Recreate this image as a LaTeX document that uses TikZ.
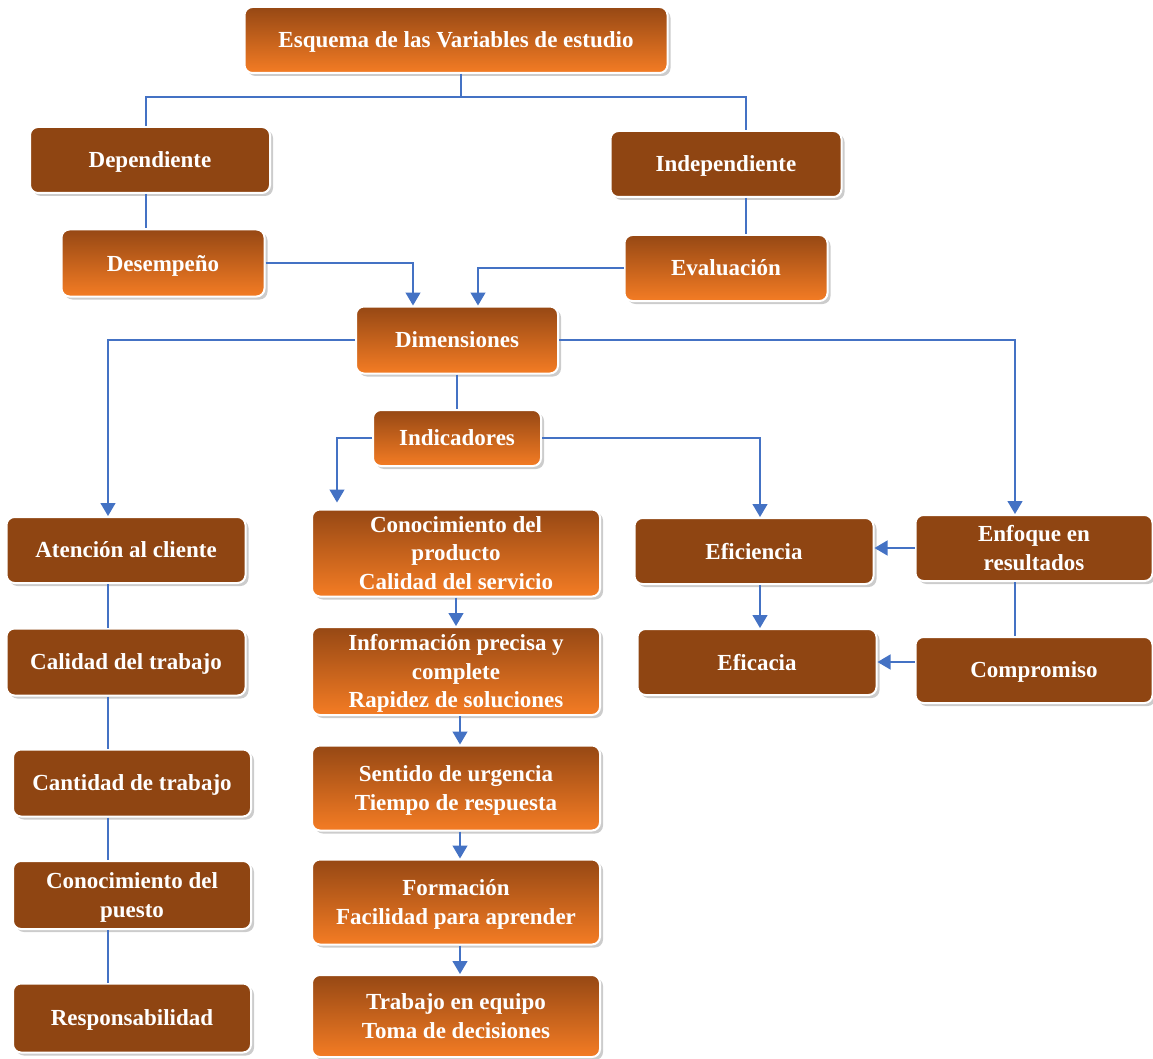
\documentclass[tikz,border=0pt]{standalone}
\usepackage{fontspec}
\setmainfont{Liberation Serif}
\usetikzlibrary{arrows.meta,shadows}
\definecolor{brownbox}{RGB}{143,69,18}
\definecolor{browntop}{RGB}{150,72,20}
\definecolor{orangebot}{RGB}{244,124,36}
\definecolor{linkblue}{RGB}{68,114,196}

\begin{document}
\begin{tikzpicture}[x=1pt,y=-1pt,
    box/.style={rounded corners=8pt,draw=white,line width=2pt,text=white,
        font=\fontsize{23}{28.5}\selectfont\bfseries,align=center,inner sep=0pt,text depth=0pt,
        drop shadow={shadow xshift=3pt,shadow yshift=-3pt,fill=black!40}},
    obox/.style={box,top color=browntop,bottom color=orangebot},
    bbox/.style={box,fill=brownbox},
    link/.style={draw=linkblue,line width=1.3pt},
    arr/.style={link,-{Triangle[width=15pt,length=13pt]}}]
  \useasboundingbox (0,0) rectangle (1153,1059);

  \node[obox,minimum width=423pt,minimum height=66pt] (esquema) at (456,40) {Esquema de las Variables de estudio};
  \node[bbox,minimum width=240pt,minimum height=66pt] (dep) at (150,160) {Dependiente};
  \node[bbox,minimum width=231pt,minimum height=66pt] (indep) at (726,164) {Independiente};
  \node[obox,minimum width=203pt,minimum height=67pt] (desemp) at (163,263) {Desempeño};
  \node[obox,minimum width=203pt,minimum height=66pt] (evalua) at (726,268) {Evaluación};
  \node[obox,minimum width=202pt,minimum height=67pt] (dim) at (457,340) {Dimensiones};
  \node[obox,minimum width=168pt,minimum height=56pt] (indic) at (457,438) {Indicadores};

  % columna izquierda
  \node[bbox,minimum width=239pt,minimum height=66pt] (atencion) at (126,550) {Atención al cliente};
  \node[bbox,minimum width=239pt,minimum height=67pt] (calidad) at (126,662) {Calidad del trabajo};
  \node[bbox,minimum width=238pt,minimum height=67pt] (cantidad) at (132,783) {Cantidad de trabajo};
  \node[bbox,minimum width=238pt,minimum height=68pt] (puesto) at (132,895) {Conocimiento del\\puesto};
  \node[bbox,minimum width=238pt,minimum height=69pt] (respons) at (132,1018) {Responsabilidad};

  % columna central
  \node[obox,minimum width=288pt,minimum height=87pt] (producto) at (456,553) {Conocimiento del\\producto\\Calidad del servicio};
  \node[obox,minimum width=288pt,minimum height=88pt] (informa) at (456,671) {Información precisa y\\complete\\Rapidez de soluciones};
  \node[obox,minimum width=288pt,minimum height=85pt] (urgencia) at (456,788) {Sentido de urgencia\\Tiempo de respuesta};
  \node[obox,minimum width=288pt,minimum height=85pt] (formacion) at (456,902) {Formación\\Facilidad para aprender};
  \node[obox,minimum width=288pt,minimum height=82pt] (equipo) at (456,1016) {Trabajo en equipo\\Toma de decisiones};

  % columna derecha
  \node[bbox,minimum width=239pt,minimum height=66pt] (eficiencia) at (754,551) {Eficiencia};
  \node[bbox,minimum width=239pt,minimum height=66pt] (eficacia) at (757,662) {Eficacia};
  \node[bbox,minimum width=237pt,minimum height=66pt] (enfoque) at (1034,548) {Enfoque en\\resultados};
  \node[bbox,minimum width=237pt,minimum height=66pt] (compromiso) at (1034,670) {Compromiso};

  \draw[link] ([xshift=5pt]esquema.south) -- ++(0,23) -| ([xshift=-4pt]dep.north);
  \draw[link] ([xshift=5pt]esquema.south) -- ++(0,23) -| ([xshift=20pt]indep.north);
  \draw[link] ([xshift=-4pt]dep.south) -- ([xshift=-17pt]desemp.north);
  \draw[link] ([xshift=20pt]indep.south) -- ([xshift=20pt]evalua.north);
  \draw[arr] (desemp.east) -| ([xshift=-44pt]dim.north);
  \draw[arr] (evalua.west) -| ([xshift=21pt]dim.north);
  \draw[arr] (dim.west) -| ([xshift=-18pt]atencion.north);
  \draw[arr] (dim.east) -| ([xshift=-19pt]enfoque.north);
  \draw[link] (dim.south) -- (indic.north);
  \draw[arr,shorten >=6pt] (indic.west) -| ([xshift=-119pt]producto.north);
  \draw[arr] (indic.east) -| ([xshift=6pt]eficiencia.north);

  \draw[link] ([xshift=-18pt]atencion.south) -- ([xshift=-18pt]calidad.north);
  \draw[link] ([xshift=-18pt]calidad.south) -- ([xshift=-24pt]cantidad.north);
  \draw[link] ([xshift=-24pt]cantidad.south) -- ([xshift=-24pt]puesto.north);
  \draw[link] ([xshift=-24pt]puesto.south) -- ([xshift=-24pt]respons.north);

  \draw[arr] (producto.south) -- (informa.north);
  \draw[arr] ([xshift=4pt]informa.south) -- ([xshift=4pt]urgencia.north);
  \draw[arr] ([xshift=4pt]urgencia.south) -- ([xshift=4pt]formacion.north);
  \draw[arr] ([xshift=4pt]formacion.south) -- ([xshift=4pt]equipo.north);

  \draw[arr] ([xshift=6pt]eficiencia.south) -- ([xshift=3pt]eficacia.north);
  \draw[arr] (enfoque.west) -- (enfoque.west -| eficiencia.east);
  \draw[arr] (compromiso.west |- eficacia.east) -- (eficacia.east);
  \draw[link] ([xshift=-19pt]enfoque.south) -- ([xshift=-19pt]compromiso.north);
\end{tikzpicture}
\end{document}
